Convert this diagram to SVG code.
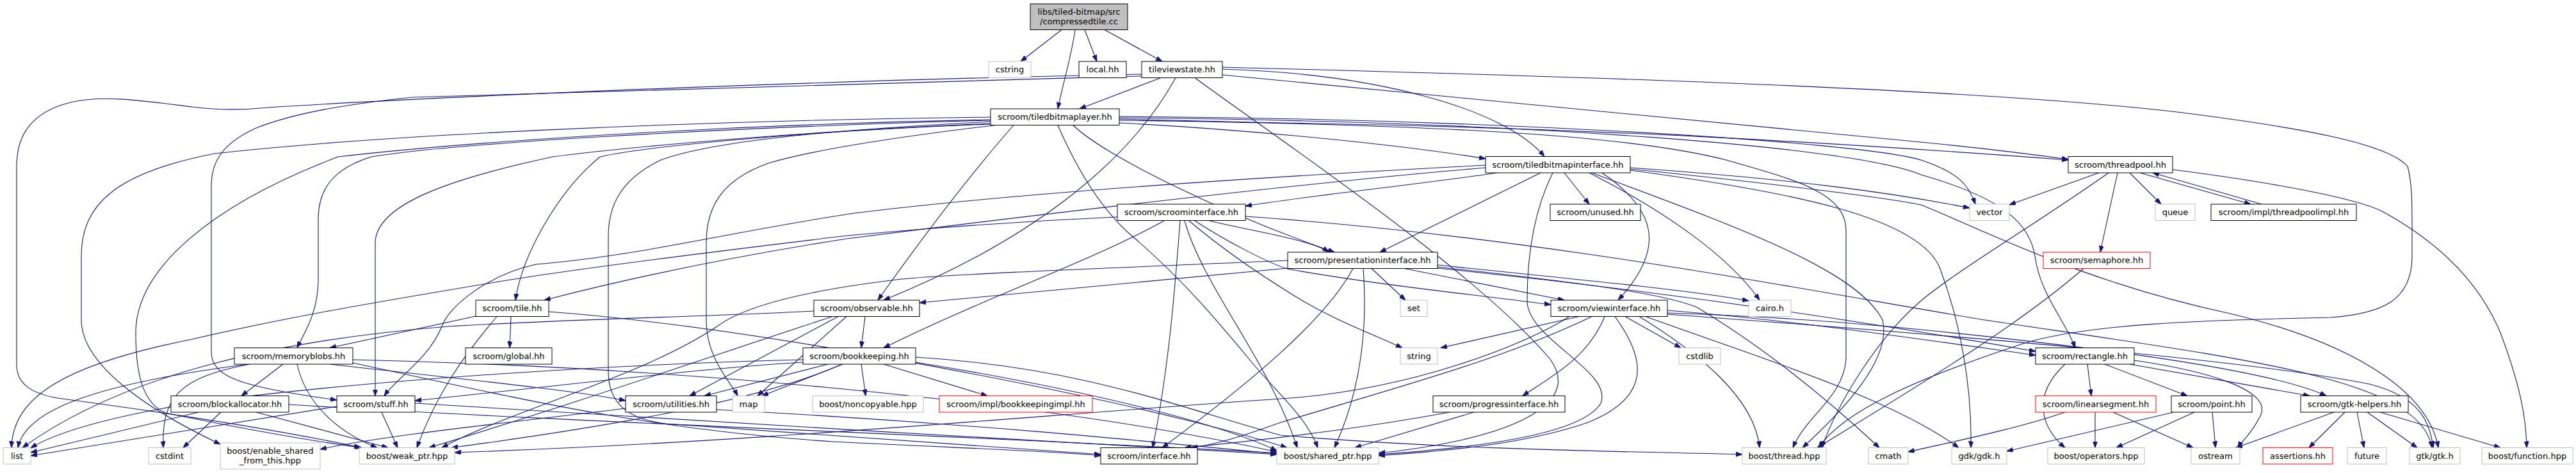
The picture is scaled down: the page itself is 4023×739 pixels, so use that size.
<svg xmlns="http://www.w3.org/2000/svg" width="4023" height="739" viewBox="0 0 4023 739">
<style>
.n rect{fill:#fff;stroke:#000;stroke-width:1}
.g rect{stroke:#bfbfbf}
.r rect{stroke:#ff0000}
text{font-family:'DejaVu Sans','Liberation Sans',sans-serif;font-size:13px;text-anchor:middle;fill:#000}
#edges path{fill:none;stroke:#191970;stroke-width:1.1;marker-end:url(#a)}
</style>
<defs>
<marker id="a" markerUnits="userSpaceOnUse" markerWidth="12" markerHeight="9" refX="10" refY="3.5" orient="auto"><path d="M0,0 L10,3.5 L0,7 z" fill="#191970" stroke="#191970" stroke-width="1"/></marker>
</defs>
<rect width="4023" height="739" fill="#fff"/>
<g id="edges">
<path d="M1658,46.5 L1594,96"/>
<path d="M1679,46.5 C1673,90 1660,130 1652,170"/>
<path d="M1694,46.5 L1713,96"/>
<path d="M1725,46.5 L1815,96"/>
<path d="M1813,121.5 L1686,170"/>
<path d="M1783,116 C1300,125 700,150 419,168 C380,172 340,172 300,167 C220,157 160,148 110,160 C50,175 26,210 26,260 L26,570 C26,600 50,615 90,622 C300,650 450,675 563,699"/>
<path d="M1783,119 C1300,130 800,145 644,152 C520,165 451,180 400,200 C345,225 330,255 330,290 L330,550 C330,590 380,605 526,625"/>
<path d="M1909,108 C2150,115 2350,170 2412,244.5"/>
<path d="M1909,117 L3010,223 C3120,234 3180,242 3230,249"/>
<path d="M1836,121.5 C1760,260 1600,380 1380,469"/>
<path d="M1866,121.5 C2000,220 2300,420 2420,560 C2480,640 2330,690 2153,708"/>
<path d="M1909,105 C2500,120 3100,140 3400,175 C3600,200 3730,225 3760,260 C3768,290 3767,320 3767,400 C3767,470 3720,490 3640,496 C3450,500 3250,505 3150,540 C3000,590 2880,640 2840,699.5"/>
<path d="M1547,183 C1100,188 600,210 335,240 C180,270 127,320 127,400 L127,500 C127,570 230,640 344,694"/>
<path d="M1547,187 C1100,195 700,225 528,245 C330,320 212,420 212,520 C212,590 225,630 258,645 C380,670 480,688 565,699.5"/>
<path d="M1547,188 C1100,200 700,225 580,245 C515,265 498,300 497,340 L497,440 C496,490 475,520 464,543.5"/>
<path d="M1547,193 C1150,210 900,240 863,245 C700,280 586,320 586,380 L586,618.5"/>
<path d="M1547,194 C1250,205 1000,230 937,245 C870,300 815,400 805,469"/>
<path d="M1555,195.5 C1350,220 1250,240 1200,255 C1130,280 1103,320 1103,380 L1103,500 C1103,560 1140,595 1152,618.5"/>
<path d="M1549,190 C1250,205 1100,225 1032,250 C970,280 950,320 950,370 L950,580 C950,630 980,655 1040,662 C1300,680 1550,700 1719,710"/>
<path d="M1583,195.5 C1500,290 1420,400 1371,469"/>
<path d="M1676,195.5 C1720,240 1900,330 2084,394"/>
<path d="M1748,192 C1900,200 2150,220 2320,248"/>
<path d="M1748,186 L2000,192 C2500,200 2900,225 3230,250"/>
<path d="M1748,182 C2300,185 2900,220 3000,250 C3060,270 3075,290 3085,319"/>
<path d="M1748,184 C2400,190 2900,230 3000,273 C3130,310 3170,350 3178,400 C3186,460 3225,500 3241,543.5"/>
<path d="M1748,188 C2300,195 2560,215 2696,250 C2800,280 2883,300 2883,360 L2883,560 C2880,620 2820,650 2800,699.5"/>
<path d="M1652,195.5 C1680,260 1720,330 1773,373 C1850,440 1900,500 1950,560 C1990,610 2040,650 2058,699.5"/>
<path d="M2338,270 C2200,290 2050,305 1945,322"/>
<path d="M2406,270 L2155,394"/>
<path d="M2443,270 L2482,319"/>
<path d="M2502,270 C2590,330 2600,390 2527,469"/>
<path d="M2482,270 C2600,330 2700,400 2748,469"/>
<path d="M2425,270 C2395,330 2385,400 2385,470 C2385,530 2520,580 2500,630 C2470,680 2300,700 2153,710"/>
<path d="M2486,270 C2700,350 2900,420 2940,500 C2955,560 2880,640 2815,699.5"/>
<path d="M2320,262 C2100,280 1700,325 1322,373 C1150,400 1000,430 850,469"/>
<path d="M2320,258 C2000,275 1600,300 1335,333 C1150,360 1000,400 837,413 C760,430 700,480 690,510 C670,560 620,590 600,618.5"/>
<path d="M2546,262 C2800,280 2950,300 3076,325"/>
<path d="M2546,266 C2800,300 3000,340 3030,420 C3060,500 3080,600 3078,699.5"/>
<path d="M2546,264 C2800,290 2950,310 3000,320 C3100,360 3250,440 3483,490 C3650,530 3790,600 3808,699.5"/>
<path d="M3278,270 L3138,320"/>
<path d="M3307,270 L3280,394"/>
<path d="M3326,270 L3375,319"/>
<path d="M3342,270 L3515,319"/>
<path d="M3532,319 L3362,270"/>
<path d="M3393,265 C3550,285 3680,310 3720,330 C3830,390 3880,460 3905,520 C3935,600 3945,650 3946,699.5"/>
<path d="M3293,270 C3180,350 3060,420 3000,470 C2930,530 2870,630 2845,699.5"/>
<path d="M3254,419.5 C3150,510 3000,600 2838,699.5"/>
<path d="M1745,339 C1500,350 1300,370 1283,373 C1100,395 900,420 779,440 C600,470 450,495 300,530 C100,570 20,620 18,699.5"/>
<path d="M1818,345 C1700,410 1550,460 1380,543.5"/>
<path d="M1843,345 C1835,450 1825,580 1800,699.5"/>
<path d="M1889,345 C1950,360 2050,375 2075,394"/>
<path d="M1866,345 C1920,380 1980,410 2010,420 C2150,445 2300,460 2422,476"/>
<path d="M1857,345 C1910,390 1970,430 2010,455 C2080,500 2140,520 2190,543.5"/>
<path d="M1850,345 C1880,450 1980,560 2026,699.5"/>
<path d="M1945,338 C2400,370 2800,450 3100,500 C3500,560 3780,590 3798,699.5"/>
<path d="M2011,419 L1436,473"/>
<path d="M2142,419.5 L2195,469"/>
<path d="M2193,419.5 L2443,469"/>
<path d="M2245,414 C2500,440 2650,455 2731,470"/>
<path d="M2129,419.5 C2135,500 2130,600 2084,699.5"/>
<path d="M2113,419.5 C2070,500 1950,600 1815,699.5"/>
<path d="M2011,407 C1700,420 1450,430 1400,437 C1250,455 1160,480 1120,510 C1000,590 800,640 690,699.5"/>
<path d="M2245,417 C2500,445 2600,460 2650,480 C2750,540 2850,620 2935,699.5"/>
<path d="M2245,419 C2600,455 2900,500 3179,549"/>
<path d="M2466,494.5 L2250,543.5"/>
<path d="M2538,494.5 L2625,543.5"/>
<path d="M2506,494.5 C2480,560 2420,590 2378,618.5"/>
<path d="M2522,494.5 C2570,560 2580,620 2480,660 C2380,695 2250,705 2153,712"/>
<path d="M2560,494.5 C2650,550 2740,620 2748,699.5"/>
<path d="M2451,494.5 C2380,540 2200,610 2000,623 C1600,650 1200,690 710,707"/>
<path d="M2486,494.5 C2350,560 2200,600 2000,660 C1950,678 1900,695 1860,699.5"/>
<path d="M2604,485 C2800,500 3000,530 3179,555"/>
<path d="M2604,489 C2800,495 2950,510 3000,515 C3300,545 3550,580 3633,618.5"/>
<path d="M2604,491 C3000,520 3500,560 3700,600 C3780,620 3795,660 3800,699.5"/>
<path d="M2570,494.5 C2750,560 2950,620 3059,699.5"/>
<path d="M1271,486 C1100,495 900,498 700,510 C450,530 200,580 35,699.5"/>
<path d="M1300,494.5 C1100,560 900,630 670,699.5"/>
<path d="M1309,494.5 L1077,618.5"/>
<path d="M1322,494.5 L1183,618.5"/>
<path d="M1351,494.5 L1345,543.5"/>
<path d="M1293,569 L1100,618.5"/>
<path d="M1316,569 L1190,618.5"/>
<path d="M1345,569 L1352,618.5"/>
<path d="M1380,569 L1542,618.5"/>
<path d="M1254,562 C1000,568 600,590 300,630 C150,655 80,680 48,700"/>
<path d="M1254,566 C1100,575 900,600 648,626"/>
<path d="M1315,569 C1200,620 1000,660 705,699.5"/>
<path d="M1430,566 C1700,610 1900,660 1994,704"/>
<path d="M1430,558 C1700,575 1850,640 2000,680 C2300,705 2600,706 2721,710"/>
<path d="M442,569 L377,618.5"/>
<path d="M387,569 C150,600 40,640 28,699.5"/>
<path d="M390,569 C280,590 252,620 255,699.5"/>
<path d="M464,569 C480,640 540,680 589,699.5"/>
<path d="M515,569 C700,590 900,610 977,626"/>
<path d="M551,562 C1000,572 1600,620 1994,706"/>
<path d="M551,567 C800,620 1000,670 1300,690 C1500,700 1650,705 1719,712"/>
<path d="M310,644 L48,707"/>
<path d="M345,644 L286,699.5"/>
<path d="M400,644 L606,699.5"/>
<path d="M451,632 C900,660 1500,680 1994,708"/>
<path d="M526,635 L48,712"/>
<path d="M596,644 L621,699.5"/>
<path d="M648,630 C1000,650 1600,690 1994,710"/>
<path d="M743,494 L515,543.5"/>
<path d="M776,494.5 C720,560 680,620 651,699.5"/>
<path d="M798,494.5 L796,543.5"/>
<path d="M857,487 C1100,505 1400,560 1600,600 C1800,640 1950,680 2010,699.5"/>
<path d="M977,638 C800,660 600,680 500,702"/>
<path d="M1119,640 C1500,660 1800,690 1994,709"/>
<path d="M2264,644 C2150,665 2000,685 1850,699.5"/>
<path d="M2302,644 L2116,699.5"/>
<path d="M3225,569 C3170,620 3190,670 3225,699.5"/>
<path d="M3260,569 L3266,618.5"/>
<path d="M3287,569 L3416,618.5"/>
<path d="M3326,569 L3607,618.5"/>
<path d="M3333,563 C3450,580 3550,610 3530,650 C3515,680 3500,690 3495,699.5"/>
<path d="M3225,644 C3150,670 3050,690 2980,706"/>
<path d="M3272,644 L3272,699.5"/>
<path d="M3300,644 L3425,699.5"/>
<path d="M3395,644 L3134,705"/>
<path d="M3427,644 L3305,699.5"/>
<path d="M3455,644 L3460,699.5"/>
<path d="M3645,644 L3492,699.5"/>
<path d="M3662,644 L3606,699.5"/>
<path d="M3681,644 L3692,699.5"/>
<path d="M3697,644 L3775,699.5"/>
<path d="M3717,644 L3905,699.5"/>
</g>
<g id="n_root" class="n"><rect x="1609" y="6" width="152" height="40.5" style="fill:#bfbfbf"/><text x="1685" y="22.5">libs/tiled-bitmap/src</text><text x="1685" y="37.5">/compressedtile.cc</text></g>
<g id="n_cstring" class="n g"><rect x="1544" y="96" width="66" height="25.5"/><text x="1577" y="113.2">cstring</text></g>
<g id="n_local" class="n"><rect x="1685" y="96" width="74" height="25.5"/><text x="1722" y="113.2">local.hh</text></g>
<g id="n_tileviewstate" class="n"><rect x="1783" y="96" width="126" height="25.5"/><text x="1846" y="113.2">tileviewstate.hh</text></g>
<g id="n_tiledbitmaplayer" class="n"><rect x="1547" y="170" width="201" height="25.5"/><text x="1647.5" y="187.2">scroom/tiledbitmaplayer.hh</text></g>
<g id="n_tiledbitmapinterface" class="n"><rect x="2320" y="244.5" width="226" height="25.5"/><text x="2433" y="261.7">scroom/tiledbitmapinterface.hh</text></g>
<g id="n_threadpool" class="n"><rect x="3230" y="244.5" width="163" height="25.5"/><text x="3311.5" y="261.7">scroom/threadpool.hh</text></g>
<g id="n_unused" class="n"><rect x="2421" y="319" width="141" height="25.5"/><text x="2491.5" y="336.2">scroom/unused.hh</text></g>
<g id="n_vector" class="n g"><rect x="3076" y="319" width="62" height="25.5"/><text x="3107" y="336.2">vector</text></g>
<g id="n_queue" class="n g"><rect x="3366" y="319" width="62" height="25.5"/><text x="3397" y="336.2">queue</text></g>
<g id="n_threadpoolimpl" class="n"><rect x="3453" y="319" width="227" height="25.5"/><text x="3566.5" y="336.2">scroom/impl/threadpoolimpl.hh</text></g>
<g id="n_scroominterface" class="n"><rect x="1745" y="319" width="200" height="25.5"/><text x="1845" y="336.2">scroom/scroominterface.hh</text></g>
<g id="n_presentationinterface" class="n"><rect x="2011" y="394" width="234" height="25.5"/><text x="2128" y="411.2">scroom/presentationinterface.hh</text></g>
<g id="n_semaphore" class="n r"><rect x="3191" y="394" width="167" height="25.5"/><text x="3274.5" y="411.2">scroom/semaphore.hh</text></g>
<g id="n_set" class="n g"><rect x="2187" y="469" width="42" height="25.5"/><text x="2208" y="486.2">set</text></g>
<g id="n_viewinterface" class="n"><rect x="2422" y="469" width="182" height="25.5"/><text x="2513" y="486.2">scroom/viewinterface.hh</text></g>
<g id="n_cairo" class="n g"><rect x="2731" y="469" width="66" height="25.5"/><text x="2764" y="486.2">cairo.h</text></g>
<g id="n_observable" class="n"><rect x="1271" y="469" width="165" height="25.5"/><text x="1353.5" y="486.2">scroom/observable.hh</text></g>
<g id="n_tile" class="n"><rect x="743" y="469" width="114" height="25.5"/><text x="800" y="486.2">scroom/tile.hh</text></g>
<g id="n_memoryblobs" class="n"><rect x="366" y="543.5" width="185" height="25.5"/><text x="458.5" y="560.7">scroom/memoryblobs.hh</text></g>
<g id="n_global" class="n"><rect x="727" y="543.5" width="135" height="25.5"/><text x="794.5" y="560.7">scroom/global.hh</text></g>
<g id="n_bookkeeping" class="n"><rect x="1254" y="543.5" width="176" height="25.5"/><text x="1342" y="560.7">scroom/bookkeeping.hh</text></g>
<g id="n_string" class="n g"><rect x="2187" y="543.5" width="58" height="25.5"/><text x="2216" y="560.7">string</text></g>
<g id="n_cstdlib" class="n g"><rect x="2622" y="543.5" width="65" height="25.5"/><text x="2654.5" y="560.7">cstdlib</text></g>
<g id="n_rectangle" class="n"><rect x="3179" y="543.5" width="154" height="25.5"/><text x="3256" y="560.7">scroom/rectangle.hh</text></g>
<g id="n_blockallocator" class="n"><rect x="267" y="618.5" width="184" height="25.5"/><text x="359" y="635.7">scroom/blockallocator.hh</text></g>
<g id="n_stuff" class="n"><rect x="526" y="618.5" width="122" height="25.5"/><text x="587" y="635.7">scroom/stuff.hh</text></g>
<g id="n_utilities" class="n"><rect x="977" y="618.5" width="142" height="25.5"/><text x="1048" y="635.7">scroom/utilities.hh</text></g>
<g id="n_map" class="n g"><rect x="1144" y="618.5" width="50" height="25.5"/><text x="1169" y="635.7">map</text></g>
<g id="n_noncopyable" class="n g"><rect x="1269" y="618.5" width="173" height="25.5"/><text x="1355.5" y="635.7">boost/noncopyable.hpp</text></g>
<g id="n_bookkeepingimpl" class="n r"><rect x="1467" y="618.5" width="239" height="25.5"/><text x="1586.5" y="635.7">scroom/impl/bookkeepingimpl.hh</text></g>
<g id="n_progressinterface" class="n"><rect x="2238" y="618.5" width="206" height="25.5"/><text x="2341" y="635.7">scroom/progressinterface.hh</text></g>
<g id="n_linearsegment" class="n r"><rect x="3179" y="618.5" width="188" height="25.5"/><text x="3273" y="635.7">scroom/linearsegment.hh</text></g>
<g id="n_point" class="n"><rect x="3391" y="618.5" width="126" height="25.5"/><text x="3454" y="635.7">scroom/point.hh</text></g>
<g id="n_gtkhelpers" class="n"><rect x="3593" y="618.5" width="168" height="25.5"/><text x="3677" y="635.7">scroom/gtk-helpers.hh</text></g>
<g id="n_list" class="n g"><rect x="5" y="699.5" width="43" height="25.5"/><text x="26.5" y="716.7">list</text></g>
<g id="n_cstdint" class="n g"><rect x="232" y="699.5" width="66" height="25.5"/><text x="265" y="716.7">cstdint</text></g>
<g id="n_enable_shared" class="n g"><rect x="344" y="692" width="156" height="41"/><text x="422" y="708.5">boost/enable_shared</text><text x="422" y="723.5">_from_this.hpp</text></g>
<g id="n_weak_ptr" class="n g"><rect x="561" y="699.5" width="149" height="25.5"/><text x="635.5" y="716.7">boost/weak_ptr.hpp</text></g>
<g id="n_interface" class="n"><rect x="1719" y="699.5" width="151" height="25.5"/><text x="1794.5" y="716.7">scroom/interface.hh</text></g>
<g id="n_shared_ptr" class="n g"><rect x="1994" y="699.5" width="159" height="25.5"/><text x="2073.5" y="716.7">boost/shared_ptr.hpp</text></g>
<g id="n_thread" class="n g"><rect x="2721" y="699.5" width="131" height="25.5"/><text x="2786.5" y="716.7">boost/thread.hpp</text></g>
<g id="n_cmath" class="n g"><rect x="2918" y="699.5" width="62" height="25.5"/><text x="2949" y="716.7">cmath</text></g>
<g id="n_gdk" class="n g"><rect x="3048" y="699.5" width="86" height="25.5"/><text x="3091" y="716.7">gdk/gdk.h</text></g>
<g id="n_operators" class="n g"><rect x="3198" y="699.5" width="151" height="25.5"/><text x="3273.5" y="716.7">boost/operators.hpp</text></g>
<g id="n_ostream" class="n g"><rect x="3422" y="699.5" width="76" height="25.5"/><text x="3460" y="716.7">ostream</text></g>
<g id="n_assertions" class="n r"><rect x="3534" y="699.5" width="109" height="25.5"/><text x="3588.5" y="716.7">assertions.hh</text></g>
<g id="n_future" class="n g"><rect x="3666" y="699.5" width="61" height="25.5"/><text x="3696.5" y="716.7">future</text></g>
<g id="n_gtk" class="n g"><rect x="3763" y="699.5" width="79" height="25.5"/><text x="3802.5" y="716.7">gtk/gtk.h</text></g>
<g id="n_function" class="n g"><rect x="3876" y="699.5" width="142" height="25.5"/><text x="3947" y="716.7">boost/function.hpp</text></g>
</svg>
